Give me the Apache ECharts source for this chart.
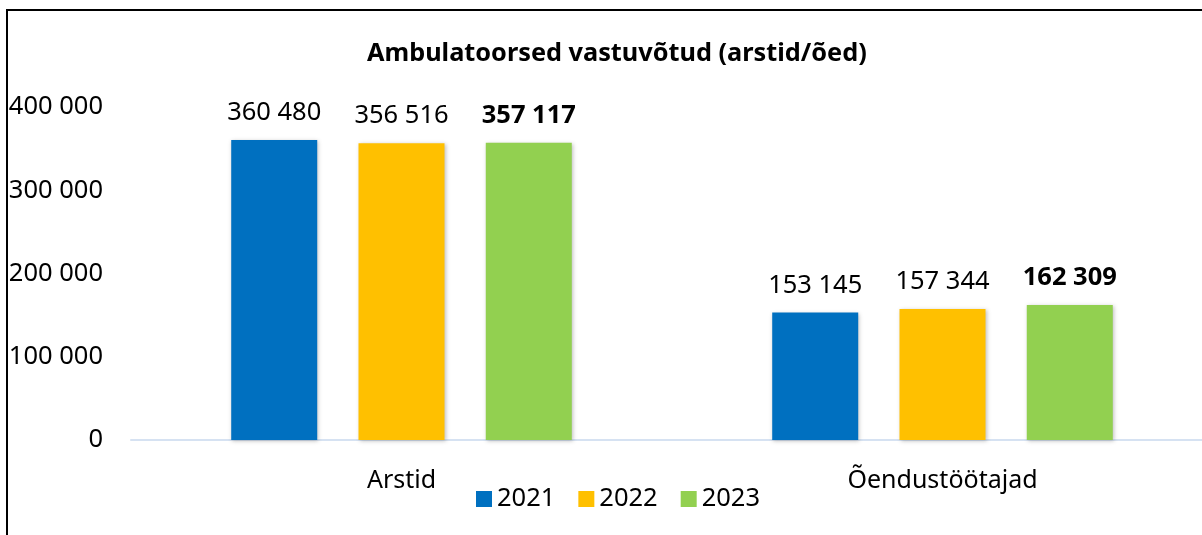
<!DOCTYPE html>
<html>
<head>
<meta charset="utf-8">
<script src="https://cdn.jsdelivr.net/npm/echarts@6/dist/echarts.min.js"></script>
<style>
html,body{margin:0;padding:0;background:#fff;}
#chart{width:1202px;height:535px;}
</style>
</head>
<body>
<div id="chart"></div>
<script>
var categories = ['Arstid', 'Õendustöötajad'];
var years = ['2021', '2022', '2023'];
var values2021 = [360480, 153145];
var values2022 = [356516, 157344];
var values2023 = [357117, 162309];
var colors = ['#0070c0', '#ffc000', '#92d050'];

var font = 'Noto Sans';
function fmt(v) {
	return String(v).replace(/\B(?=(\d{3})+(?!\d))/g, ' ');
}

var myChart = echarts.init(document.getElementById('chart'));

function mkSeries(name, data, color, bold) {
	return {
		name: name,
		type: 'bar',
		data: data,
		barWidth: 86,
		barGap: '48%',
		itemStyle: {
			color: color,
			shadowColor: 'rgba(0,0,0,0.25)',
			shadowBlur: 4,
			shadowOffsetX: 1,
			shadowOffsetY: 1
		},
		label: {
			show: true,
			position: 'top',
			distance: 14,
			fontFamily: font,
			fontSize: 25.5,
			fontWeight: bold ? 'bold' : 'normal',
			color: '#000',
			formatter: function (p) { return fmt(p.value); }
		}
	};
}

myChart.setOption({
	animation: false,
	color: colors,
	title: {
		text: 'Ambulatoorsed vastuvõtud (arstid/õed)',
		left: 362,
		top: 36,
		textStyle: {fontFamily: font, fontSize: 25.3, fontWeight: 'bold', color: '#000'}
	},
	legend: {
		bottom: 18,
		left: 471,
		itemWidth: 16,
		itemHeight: 16,
		itemGap: 23,
		icon: 'rect',
		textStyle: {fontFamily: font, fontSize: 25.5, color: '#000'},
		data: years
	},
	graphic: [{
		type: 'rect',
		shape: {x: 7, y: 10, width: 1300, height: 700},
		style: {fill: 'none', stroke: '#000', lineWidth: 2},
		silent: true
	}],
	grid: {left: 131, width: 1082, top: 107, bottom: 95, outerBoundsMode: 'none'},
	xAxis: {
		type: 'category',
		data: categories,
		axisLine: {lineStyle: {color: '#d6e2f2', width: 2}},
		axisTick: {show: false},
		axisLabel: {fontFamily: font, fontSize: 25, color: '#000', margin: 28}
	},
	yAxis: {
		type: 'value',
		min: 0,
		max: 400000,
		interval: 100000,
		splitLine: {show: false},
		axisLine: {show: false},
		axisTick: {show: false},
		axisLabel: {
			fontFamily: font, fontSize: 25.5, color: '#000', margin: 28,
			formatter: function (v) { return fmt(v); }
		}
	},
	series: [
		mkSeries('2021', values2021, colors[0], false),
		mkSeries('2022', values2022, colors[1], false),
		mkSeries('2023', values2023, colors[2], true)
	]
});
</script>
</body>
</html>
